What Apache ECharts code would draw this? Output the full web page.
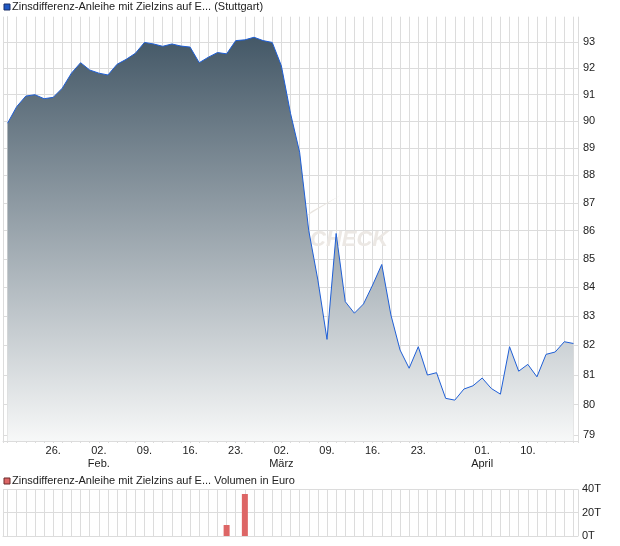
<!DOCTYPE html>
<html><head><meta charset="utf-8">
<script src="https://cdn.jsdelivr.net/npm/echarts@6/dist/echarts.min.js"></script>
<style>html,body{margin:0;padding:0;background:#fff}#c{width:620px;height:546px}</style>
</head><body><div id="c"></div>
<script>
// Trading days (Stuttgart), 2026
const dates = [
 '2026-01-19','2026-01-20','2026-01-21','2026-01-22','2026-01-23',
 '2026-01-26','2026-01-27','2026-01-28','2026-01-29','2026-01-30',
 '2026-02-02','2026-02-03','2026-02-04','2026-02-05','2026-02-06',
 '2026-02-09','2026-02-10','2026-02-11','2026-02-12','2026-02-13',
 '2026-02-16','2026-02-17','2026-02-18','2026-02-19','2026-02-20',
 '2026-02-23','2026-02-24','2026-02-25','2026-02-26','2026-02-27',
 '2026-03-02','2026-03-03','2026-03-04','2026-03-05','2026-03-06',
 '2026-03-09','2026-03-10','2026-03-11','2026-03-12','2026-03-13',
 '2026-03-16','2026-03-17','2026-03-18','2026-03-19','2026-03-20',
 '2026-03-23','2026-03-24','2026-03-25','2026-03-26','2026-03-27',
 '2026-03-30','2026-03-31','2026-04-01','2026-04-02',
 '2026-04-07','2026-04-08','2026-04-09','2026-04-10',
 '2026-04-13','2026-04-14','2026-04-15','2026-04-16','2026-04-17'
];
const prices = [
 89.93, 90.55, 90.95, 91.00, 90.85,
 90.90, 91.25, 91.82, 92.22, 91.94,
 91.82, 91.75, 92.16, 92.35, 92.58,
 93.00, 92.94, 92.85, 92.94, 92.86,
 92.82, 92.22, 92.43, 92.61, 92.56,
 93.07, 93.10, 93.20, 93.07, 93.00,
 92.10, 90.30, 88.85, 86.00, 84.25,
 82.20, 85.90, 83.50, 83.10, 83.42,
 84.08, 84.80, 83.04, 81.84, 81.22,
 81.95, 80.99, 81.07, 80.21, 80.15,
 80.52, 80.63, 80.89, 80.54,
 80.35, 81.95, 81.12, 81.35,
 80.93, 81.69, 81.77, 82.12, 82.06
];
const volumes = [
 0,0,0,0,0, 0,0,0,0,0, 0,0,0,0,0, 0,0,0,0,0,
 0,0,0,0,9400, 0,36000,0,0,0,
 0,0,0,0,0, 0,0,0,0,0, 0,0,0,0,0, 0,0,0,0,0,
 0,0,0,0, 0,0,0,0, 0,0,0,0,0
];
const priceTicks = [79,80,81,82,83,84,85,86,87,88,89,90,91,92,93];
const volumeTicks = [0,20000,40000];
const xLabelDates = ['2026-01-26','2026-02-02','2026-02-09','2026-02-16','2026-02-23','2026-03-02','2026-03-09','2026-03-16','2026-03-23','2026-04-01','2026-04-10'];
const xLabelTexts = ['26.','02.\nFeb.','09.','16.','23.','02.\nMärz','09.','16.','23.','01.\nApril','10.'];
const priceTitle = 'Zinsdifferenz-Anleihe mit Zielzins auf E... (Stuttgart)';
const volumeTitle = 'Zinsdifferenz-Anleihe mit Zielzins auf E... Volumen in Euro';

const FONT = '"Liberation Sans", Arial, sans-serif';
const GRID = '#dcdcdc';
const TXT = '#222';
const n = dates.length;
const dayIdx = dates.map((d, i) => i);
const gridX = [-0.5].concat(dayIdx, [n - 0.5]);
const labelIdx = xLabelDates.map(d => dates.indexOf(d));
const labelMap = {};
labelIdx.forEach((ix, k) => { labelMap[ix] = xLabelTexts[k]; });

const chart = echarts.init(document.getElementById('c'), null, {renderer: 'canvas'});

function xAxisBase(gi, withLabels) {
  return {
    type: 'value', gridIndex: gi, min: -0.5, max: n - 0.5,
    axisLine: {show: true, onZero: false, lineStyle: {color: GRID, width: 1}},
    axisTick: {show: withLabels, length: 2, customValues: gridX, lineStyle: {color: GRID}},
    axisLabel: withLabels ? {
      show: true, customValues: labelIdx, formatter: v => labelMap[Math.round(v)] || '',
      margin: 3, lineHeight: 13, fontSize: 11, color: TXT, fontFamily: FONT, hideOverlap: false
    } : {show: false, customValues: []},
    splitLine: {show: true, lineStyle: {color: GRID, width: 1}}
  };
}

chart.setOption({
  animation: false,
  backgroundColor: '#fff',
  grid: [
    {left: 3, right: 42, top: 16.7, height: 424.3, containLabel: false},
    {left: 3, right: 42, top: 489.3, height: 46.7, containLabel: false}
  ],
  xAxis: [xAxisBase(0, true), xAxisBase(1, false)],
  yAxis: [
    {
      type: 'value', gridIndex: 0, position: 'right',
      min: Math.log(78.8), max: Math.log(94),
      axisLine: {show: true, lineStyle: {color: GRID}},
      axisTick: {show: true, length: 4, customValues: priceTicks.map(Math.log), lineStyle: {color: GRID}},
      axisLabel: {customValues: priceTicks.map(Math.log), formatter: v => String(Math.round(Math.exp(v))),
        margin: 5, fontSize: 11, color: TXT, fontFamily: FONT},
      splitLine: {show: true, lineStyle: {color: GRID}}
    },
    {
      type: 'value', gridIndex: 1, position: 'right', min: 0, max: 40000,
      axisLine: {show: true, lineStyle: {color: GRID}},
      axisTick: {show: false, customValues: volumeTicks},
      axisLabel: {customValues: volumeTicks, formatter: v => (v / 1000) + 'T',
        margin: 4, fontSize: 11, color: TXT, fontFamily: FONT},
      splitLine: {show: true, lineStyle: {color: GRID}}
    }
  ],
  graphic: [
    {type: 'rect', left: 3.5, top: 3.5, shape: {x: 0, y: 0, width: 6, height: 6},
     style: {fill: '#1f58c4', stroke: '#1b2f66', lineWidth: 1}, z: 10},
    {type: 'text', x: 12, y: 7, style: {text: priceTitle, font: '11px ' + FONT, fill: TXT, textVerticalAlign: 'middle'}, z: 10},
    {type: 'rect', left: 3.5, top: 477.5, shape: {x: 0, y: 0, width: 6, height: 6},
     style: {fill: '#dd6666', stroke: '#6a2a2a', lineWidth: 1}, z: 10},
    {type: 'text', x: 12, y: 481, style: {text: volumeTitle, font: '11px ' + FONT, fill: TXT, textVerticalAlign: 'middle'}, z: 10},
    {type: 'polygon', shape: {points: [[305, 217], [341, 195], [312, 211]]}, style: {fill: '#e8e4df'}, z: 1},
    {type: 'text', x: 310, y: 229, style: {text: 'CHECK', font: 'italic bold 22px ' + FONT, fill: '#ece8e4'}, z: 1}
  ],
  series: [
    {
      type: 'line', xAxisIndex: 0, yAxisIndex: 0, z: 3,
      data: prices.map((v, i) => [i, Math.log(v)]),
      showSymbol: false, symbol: 'none',
      lineStyle: {color: '#1f5fd6', width: 1},
      areaStyle: {origin: 'start', opacity: 1, color: new echarts.graphic.LinearGradient(0, 0, 0, 1, [
        {offset: 0, color: '#445867'}, {offset: 1, color: '#f7f8f8'}
      ])}
    },
    {
      type: 'bar', xAxisIndex: 1, yAxisIndex: 1,
      data: volumes.map((v, i) => [i, v]),
      barWidth: 6, itemStyle: {color: '#dd6666'}
    }
  ]
});
</script></body></html>
